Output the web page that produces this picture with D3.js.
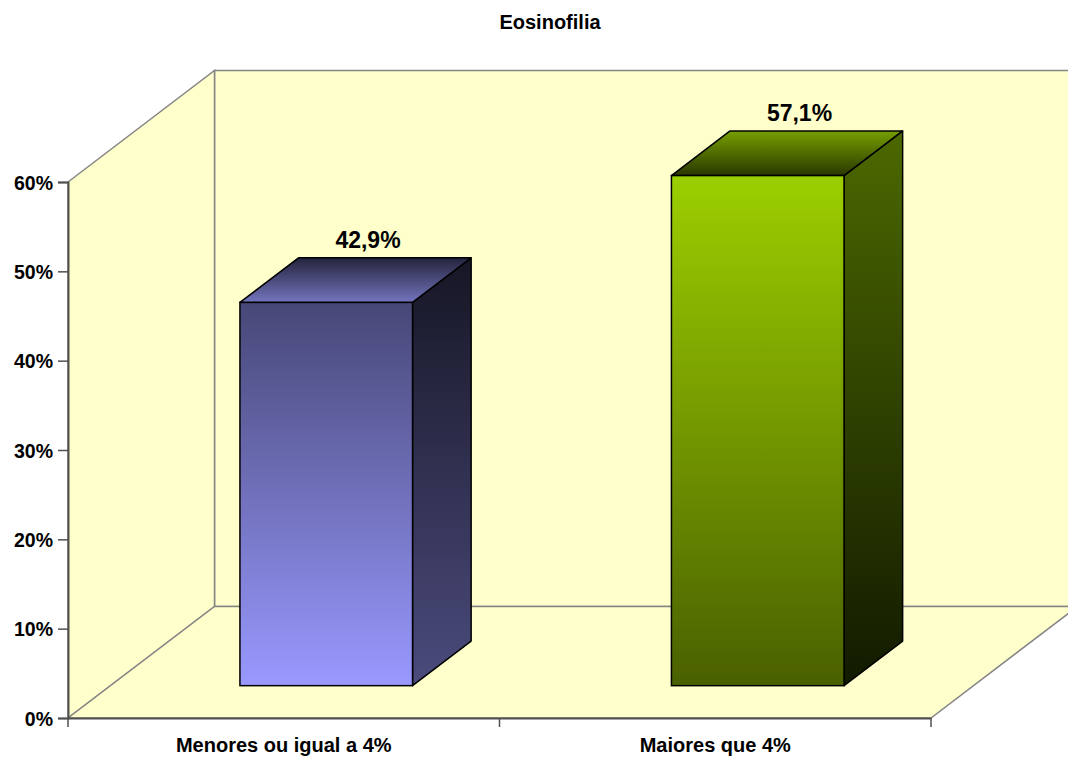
<!DOCTYPE html>
<html>
<head>
<meta charset="utf-8">
<title>Eosinofilia</title>
<script src="https://cdn.jsdelivr.net/npm/d3@7"></script>
<style>
  html, body { margin: 0; padding: 0; background: #ffffff; }
  svg { display: block; }
  text { font-family: "Liberation Sans", Arial, sans-serif; font-weight: bold; fill: #000; }
</style>
</head>
<body>
<div id="chart"></div>
<script>
// Chart data
const chartTitle = "Eosinofilia";
const categories = ["Menores ou igual a 4%", "Maiores que 4%"];
const values = [42.9, 57.1];
const valueLabels = ["42,9%", "57,1%"];
const yTicks = [0, 10, 20, 30, 40, 50, 60];

(function () {
  const width = 1068, height = 757;

  // Plot frame (front plane) and depth vector of the 3D box
  const plotLeft = 68, plotRight = 931, plotBottom = 718, plotTop = 182;
  const DX = 146.5, DY = -111.5;
  const barFront = 0.29, barBack = 0.69; // bar placement along the depth axis

  const svg = d3.select("#chart").append("svg")
    .attr("width", width).attr("height", height);

  const y = d3.scaleLinear().domain([0, 60]).range([plotBottom, plotTop]);
  const x = d3.scaleBand().domain(categories).range([plotLeft, plotRight])
    .paddingInner(0.6).paddingOuter(0.3);

  const defs = svg.append("defs");
  function grad(id, x1, y1, x2, y2, stops) {
    const g = defs.append("linearGradient").attr("id", id)
      .attr("x1", x1).attr("y1", y1).attr("x2", x2).attr("y2", y2);
    stops.forEach(([o, c]) => g.append("stop").attr("offset", o).attr("stop-color", c));
  }
  const palettes = [
    { front: ["#474777", "#9999ff"], side: ["#161625", "#4b4b7d"], top: ["#24243c", "#7474bf"] },
    { front: ["#9ccf00", "#4a6000"], side: ["#4c6800", "#121a00"], top: ["#769e00", "#2a3800"] }
  ];
  palettes.forEach((p, i) => {
    grad("front" + i, 0, 0, 0, 1, [[0, p.front[0]], [1, p.front[1]]]);
    grad("side" + i, 0, 0, 0, 1, [[0, p.side[0]], [1, p.side[1]]]);
    grad("top" + i, 0, 0, 0, 1, [[0, p.top[0]], [1, p.top[1]]]);
  });

  const pts = arr => arr.map(p => p.join(",")).join(" ");
  const wallColor = "#ffffcc", edgeColor = "#858585";

  // Walls and floor
  const y0 = y(0), yMax = y(60);
  svg.append("polygon") // back wall
    .attr("points", pts([[plotLeft + DX, yMax + DY], [plotRight + DX, yMax + DY], [plotRight + DX, y0 + DY], [plotLeft + DX, y0 + DY]]))
    .attr("fill", wallColor).attr("stroke", edgeColor).attr("stroke-width", 1.5);
  svg.append("polygon") // left wall
    .attr("points", pts([[plotLeft, yMax], [plotLeft + DX, yMax + DY], [plotLeft + DX, y0 + DY], [plotLeft, y0]]))
    .attr("fill", wallColor).attr("stroke", edgeColor).attr("stroke-width", 1.5);
  svg.append("polygon") // floor
    .attr("points", pts([[plotLeft, y0], [plotRight, y0], [plotRight + DX, y0 + DY], [plotLeft + DX, y0 + DY]]))
    .attr("fill", wallColor).attr("stroke", edgeColor).attr("stroke-width", 1.5);

  // Y axis
  const yAxis = svg.append("g").attr("transform", `translate(${plotLeft},0)`)
    .call(d3.axisLeft(y).tickValues(yTicks).tickFormat(d => d + "%").tickSize(10).tickPadding(5));
  yAxis.select(".domain").attr("stroke", "#505050").attr("stroke-width", 2);
  yAxis.selectAll(".tick line").attr("stroke", "#505050").attr("stroke-width", 1.5);
  yAxis.selectAll(".tick text").attr("font-size", 19.5).attr("dy", "0.36em")
    .style("font-family", "'Liberation Sans', Arial, sans-serif").style("font-weight", "bold").attr("fill", "#000");

  // X axis line, category separators and labels
  const xAxis = svg.append("g").attr("transform", `translate(0,${plotBottom})`)
    .call(d3.axisBottom(x).tickSize(0).tickPadding(20));
  xAxis.select(".domain").attr("stroke", "#505050").attr("stroke-width", 2);
  xAxis.selectAll(".tick text").attr("font-size", 20).attr("dy", "0.71em")
    .style("font-family", "'Liberation Sans', Arial, sans-serif").style("font-weight", "bold").attr("fill", "#000");
  const bounds = d3.range(categories.length + 1).map(i => plotLeft + i * x.step());
  xAxis.selectAll("line.sep").data(bounds).enter().append("line").attr("class", "sep")
    .attr("x1", d => d).attr("x2", d => d).attr("y1", 0).attr("y2", 9)
    .attr("stroke", "#505050").attr("stroke-width", 1.5);

  // 3D bars
  const bw = x.bandwidth();
  const fx = DX * barFront, fy = DY * barFront;
  const bx = DX * barBack, by = DY * barBack;
  const bars = svg.append("g").selectAll("g").data(values).enter().append("g");
  bars.each(function (v, i) {
    const g = d3.select(this);
    const xl = x(categories[i]), xr = xl + bw;
    const yt = y(v), yb = y(0);
    g.append("polygon") // side
      .attr("points", pts([[xr + fx, yt + fy], [xr + bx, yt + by], [xr + bx, yb + by], [xr + fx, yb + fy]]))
      .attr("fill", `url(#side${i})`).attr("stroke", "#000").attr("stroke-width", 1.5).attr("stroke-linejoin", "round");
    g.append("polygon") // top
      .attr("points", pts([[xl + bx, yt + by], [xr + bx, yt + by], [xr + fx, yt + fy], [xl + fx, yt + fy]]))
      .attr("fill", `url(#top${i})`).attr("stroke", "#000").attr("stroke-width", 1.5).attr("stroke-linejoin", "round");
    g.append("rect") // front
      .attr("x", xl + fx).attr("y", yt + fy).attr("width", bw).attr("height", yb - yt)
      .attr("fill", `url(#front${i})`).attr("stroke", "#000").attr("stroke-width", 1.5);
    g.append("text")
      .attr("x", xl + bw / 2 + DX * 0.575).attr("y", yt + by - 9.5)
      .attr("text-anchor", "middle").attr("font-size", 23)
      .text(valueLabels[i]);
  });

  // Title
  svg.append("text").attr("x", 550).attr("y", 29).attr("text-anchor", "middle")
    .attr("font-size", 20).text(chartTitle);
})();
</script>
</body>
</html>
